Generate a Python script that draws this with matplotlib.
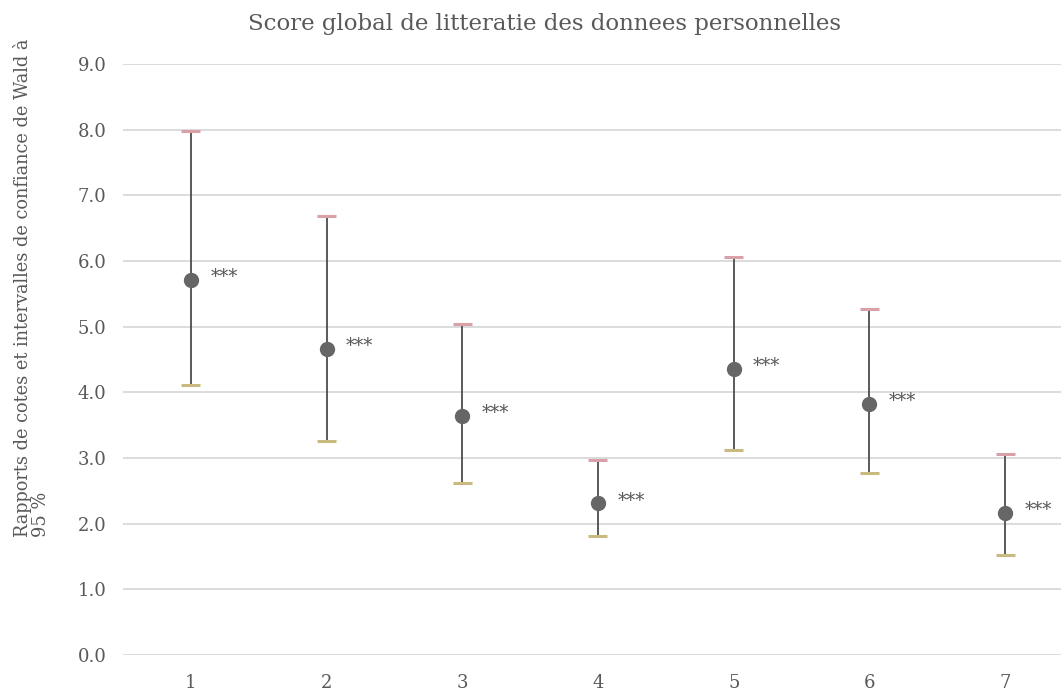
import numpy as np
import matplotlib; matplotlib.use('Agg'); import matplotlib.pyplot as plt

groups = ['1', '2', '3', '4', '5', '6', '7']
odds   = [5.71, 4.66, 3.64, 2.31, 4.36, 3.82, 2.16]
ci_low = [4.11, 3.26, 2.62, 1.81, 3.12, 2.77, 1.52]
ci_up  = [7.98, 6.68, 5.04, 2.97, 6.06, 5.27, 3.06]
signif = ['***'] * 7

plt.rcParams['font.family'] = ['DejaVu Serif']
grey = '#595959'

W, H = 1061, 694
fig = plt.figure(figsize=(W / 100, H / 100), dpi=100)
ax = fig.add_axes([0.1159, 0.0562, 0.8954, 0.8516])

x = np.arange(1, len(groups) + 1)
odds = np.array(odds); lo = np.array(ci_low); up = np.array(ci_up)

ax.vlines(x, lo, up, color='#4d4d4d', lw=1.3, zorder=3)
ax.hlines(up, x - 0.07, x + 0.07, color='#d9a0a8', lw=2.2, zorder=3)
ax.hlines(lo, x - 0.07, x + 0.07, color='#c9bb80', lw=2.2, zorder=3)
ax.plot(x, odds, 'o', color='#666666', ms=10, zorder=4)
for xi, yi, s in zip(x, odds, signif):
    ax.annotate(s, (xi, yi), textcoords='offset points', xytext=(14, 2),
                va='center', ha='left', fontsize=13, color=grey)

ax.set_xlim(0.5, 7.5); ax.set_ylim(0, 9)
yt = np.arange(0, 9.5, 1.0)
ax.set_yticks(yt); ax.set_yticklabels([f'{v:.1f}' for v in yt])
ax.set_xticks(x); ax.set_xticklabels(groups)
ax.tick_params(axis='y', length=0, labelsize=13, labelcolor=grey, pad=12)
ax.tick_params(axis='x', length=0, labelsize=13, labelcolor=grey, pad=14)
ax.grid(axis='y', color='#d9d9d9', lw=1.3, zorder=0)
ax.set_axisbelow(True)
for s in ax.spines.values(): s.set_visible(False)

fig.text(32 / W, 1 - 288 / H,
         'Rapports de cotes et intervalles de confiance de Wald à\n95 %',
         rotation=90, ha='center', va='center', multialignment='left',
         fontsize=12.8, color=grey, linespacing=1.0)
fig.text(545 / W, 1 - 24 / H, 'Score global de litteratie des donnees personnelles',
         ha='center', va='center', fontsize=16.5, color=grey)

fig.savefig('out.png', dpi=100)
